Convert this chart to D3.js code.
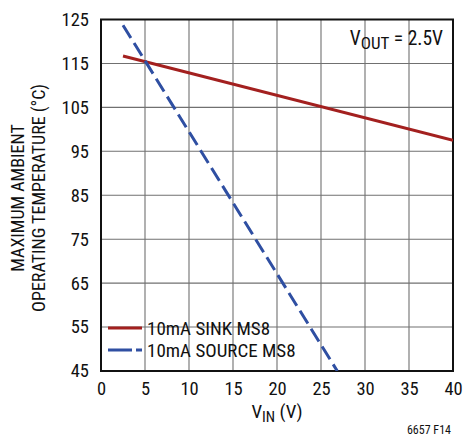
<!DOCTYPE html>
<html><head><meta charset="utf-8">
<script src="https://cdn.jsdelivr.net/npm/d3@7"></script>
<style>
body{margin:0;background:#fff;}
text{font-family:"Liberation Sans Narrow","Roboto Condensed","Liberation Sans",Arial,sans-serif;fill:#111;}
</style></head><body>
<svg id="c" width="463" height="438"></svg>
<script>
const xTicks = [0,5,10,15,20,25,30,35,40];
const yTicks = [45,55,65,75,85,95,105,115,125];
const sinkVin = [2.5, 40];
const sinkTemp = [116.7, 97.5];
const sourceVin = [2.5, 26.85];
const sourceTemp = [123.7, 45];
const seriesNames = ["10mA SINK MS8","10mA SOURCE MS8"];

const svg = d3.select("#c");
const L=101,R=453,T=19.5,B=371;
const x = d3.scaleLinear().domain([0,40]).range([L,R]);
const y = d3.scaleLinear().domain([45,125]).range([B,T]);

// grid
svg.append("g").selectAll("line").data(xTicks.slice(1,-1)).join("line")
  .attr("x1",d=>x(d)).attr("x2",d=>x(d)).attr("y1",T).attr("y2",B)
  .attr("stroke","#707070").attr("stroke-width",1.1);
svg.append("g").selectAll("line").data(yTicks.slice(1,-1)).join("line")
  .attr("y1",d=>y(d)).attr("y2",d=>y(d)).attr("x1",L).attr("x2",R)
  .attr("stroke","#707070").attr("stroke-width",1.1);

// axes
const xAxis = svg.append("g").attr("transform",`translate(0,${B})`)
  .call(d3.axisBottom(x).tickValues(xTicks).tickSize(0).tickPadding(11));
xAxis.select(".domain").remove();
xAxis.selectAll("text").attr("font-size",18.5).attr("font-family",null).attr("fill","#111");
const yAxis = svg.append("g").attr("transform",`translate(${L},0)`)
  .call(d3.axisLeft(y).tickValues(yTicks).tickSize(0).tickPadding(12));
yAxis.select(".domain").remove();
yAxis.selectAll("text").attr("font-size",18.5).attr("font-family",null).attr("fill","#111");

// frame
svg.append("rect").attr("x",L).attr("y",T).attr("width",R-L).attr("height",B-T)
  .attr("fill","none").attr("stroke","#111").attr("stroke-width",2);

const line = d3.line().x(d=>x(d[0])).y(d=>y(d[1]));
svg.append("defs").append("clipPath").attr("id","clip").append("rect")
  .attr("x",L).attr("y",T).attr("width",R-L).attr("height",B-T);
const g = svg.append("g").attr("clip-path","url(#clip)");
g.append("path").datum(d3.zip(sinkVin,sinkTemp)).attr("d",line)
  .attr("fill","none").attr("stroke","#a3201f").attr("stroke-width",3);
g.append("path").datum(d3.zip(sourceVin,sourceTemp)).attr("d",line)
  .attr("fill","none").attr("stroke","#2f4fa2").attr("stroke-width",3)
  .attr("stroke-dasharray","15,6");

// legend
const leg = svg.append("g");
[[seriesNames[0],"#a3201f",null,328],[seriesNames[1],"#2f4fa2","24,4,6,10",350]].forEach(([n,c,da,yy])=>{
  leg.append("line").attr("x1",108).attr("x2",142).attr("y1",yy).attr("y2",yy)
    .attr("stroke",c).attr("stroke-width",3).attr("stroke-dasharray",da);
  leg.append("text").attr("x",147).attr("y",yy+6.5).attr("font-size",19).text(n);
});

// VOUT label
const vt = svg.append("text").attr("x",443).attr("y",45).attr("text-anchor","end").attr("font-size",19.5);
vt.append("tspan").text("V");
vt.append("tspan").attr("dy",4).attr("font-size",17).text("OUT");
vt.append("tspan").attr("dy",-4).text(" = 2.5V");

// x title
const xt = svg.append("text").attr("x",277).attr("y",418).attr("text-anchor","middle").attr("font-size",19);
xt.append("tspan").text("V");
xt.append("tspan").attr("dy",4).attr("font-size",15).text("IN");
xt.append("tspan").attr("dy",-4).text(" (V)");

// y title
const yt = svg.append("text").attr("transform","translate(0,198) rotate(-90)").attr("text-anchor","middle").attr("font-size",18);
yt.append("tspan").attr("x",0).attr("y",24).text("MAXIMUM AMBIENT");
yt.append("tspan").attr("x",0).attr("y",45).text("OPERATING TEMPERATURE (°C)");

svg.append("text").attr("x",451).attr("y",434).attr("text-anchor","end").attr("font-size",12).text("6657 F14");
</script></body></html>
